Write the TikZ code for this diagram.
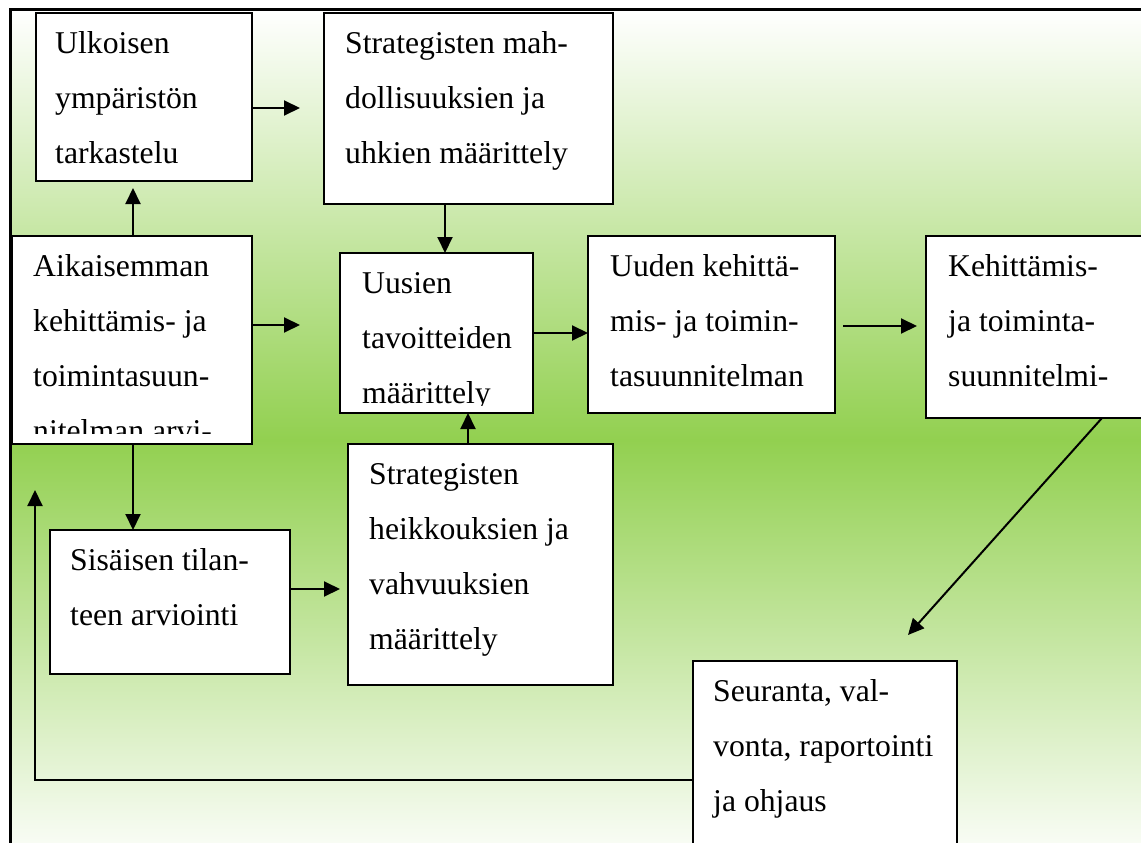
\documentclass[tikz,border=0pt]{standalone}
\usepackage{fontspec}
\setmainfont{Liberation Serif}
\usetikzlibrary{arrows.meta,calc}
\definecolor{leafgreen}{RGB}{146,208,80}

\tikzset{
  stage/.style={draw=black, line width=2pt, fill=white, rectangle,
    inner sep=0pt, outer sep=0pt, anchor=north west},
  stagetext/.style={anchor=north west, inner sep=0pt, align=left,
    font=\fontsize{31.7}{55}\selectfont},
  flow/.style={line width=2pt, -{Triangle[length=16pt,width=15pt]}},
}
% first line of every box: baseline 40pt below the top edge
\newcommand{\firstline}{\rule{0pt}{40pt}}

\begin{document}
\begin{tikzpicture}[x=1pt, y=-1pt]
  \useasboundingbox (0,0) rectangle (1141,843);
  \clip (0,0) rectangle (1141,843);
  \fill[white] (0,0) rectangle (1141,843);

  % gradient panel with its frame
  \fill[top color=white, bottom color=white, middle color=leafgreen]
    (10,10) rectangle (1170,870);
  \draw[line width=3pt] (10,870) -- (10,10) -- (1170,10);

  % boxes
  \node[stage, minimum width=216pt, minimum height=168pt] (ulk)    at (36,13)   {};
  \node[stage, minimum width=289pt, minimum height=191pt] (strat1) at (324,13)  {};
  \node[stage, minimum width=240pt, minimum height=208pt] (aik)    at (12,236)  {};
  \node[stage, minimum width=193pt, minimum height=160pt] (uusi)   at (340,253) {};
  \node[stage, minimum width=247pt, minimum height=177pt] (uuden)  at (588,236) {};
  \node[stage, minimum width=300pt, minimum height=182pt] (keh)    at (926,236) {};
  \node[stage, minimum width=240pt, minimum height=144pt] (sis)    at (50,530)  {};
  \node[stage, minimum width=265pt, minimum height=241pt] (strat2) at (348,444) {};
  \node[stage, minimum width=264pt, minimum height=250pt] (seur)   at (693,661) {};

  % box texts
  \node[stagetext] (ulk-t) at ($(ulk.north west)+(19,0)$)
    {\firstline Ulkoisen\\ympäristön\\tarkastelu};
  \node[stagetext] (strat1-t) at ($(strat1.north west)+(21,0)$)
    {\firstline Strategisten mah-\\dollisuuksien ja\\uhkien määrittely};
  \begin{scope}
    \clip (aik.north west) rectangle ($(aik.south east)+(0,-11)$);
    \node[stagetext] (aik-t) at ($(aik.north west)+(21,0)$)
      {\firstline Aikaisemman\\kehittämis- ja\\toimintasuun-\\nitelman arvi-};
  \end{scope}
  \begin{scope}
    \clip (uusi.north west) rectangle ($(uusi.south east)+(0,-8)$);
    \node[stagetext] (uusi-t) at ($(uusi.north west)+(22,0)$)
      {\firstline Uusien\\tavoitteiden\\määrittely};
  \end{scope}
  \node[stagetext] (uuden-t) at ($(uuden.north west)+(22,0)$)
    {\firstline Uuden kehittä-\\mis- ja toimin-\\tasuunnitelman};
  \node[stagetext] (keh-t) at ($(keh.north west)+(22,0)$)
    {\firstline Kehittämis-\\ja toiminta-\\suunnitelmi-};
  \node[stagetext] (sis-t) at ($(sis.north west)+(20,0)$)
    {\firstline Sisäisen tilan-\\teen arviointi};
  \node[stagetext] (strat2-t) at ($(strat2.north west)+(21,0)$)
    {\firstline Strategisten\\heikkouksien ja\\vahvuuksien\\määrittely};
  \node[stagetext] (seur-t) at ($(seur.north west)+(20,0)$)
    {\firstline Seuranta, val-\\vonta, raportointi\\ja ohjaus};

  % connectors
  \draw[flow] ($(ulk.north east)+(0,95)$) -- ($(strat1.north west)+(-24,95)$);
  \draw[flow] ($(aik.north west)+(121,0)$) -- ($(ulk.south west)+(97,7)$);
  \draw[flow] ($(aik.north east)+(0,89)$) -- ($(uusi.north west)+(-40,72)$);
  \draw[flow] ($(strat1.south west)+(121,0)$) -- ($(uusi.north west)+(105,0)$);
  \draw[flow] ($(uusi.north east)+(0,80)$) -- ($(uuden.north west)+(0,97)$);
  \draw[flow] ($(uuden.north east)+(8,90)$) -- ($(keh.north west)+(-9,90)$);
  \draw[flow] ($(aik.south west)+(121,0)$) -- ($(sis.north west)+(83,0)$);
  \draw[flow] ($(sis.north east)+(0,59)$) -- ($(strat2.north west)+(-8,145)$);
  \draw[flow] ($(strat2.north west)+(120,0)$) -- ($(uusi.south west)+(128,0)$);
  \draw[flow] ($(keh.south west)+(176,0)$) -- ($(seur.north west)+(215,-26)$);
  \draw[flow] ($(seur.north west)+(0,119)$) -| ($(aik.south west)+(23,46)$);
\end{tikzpicture}
\end{document}
